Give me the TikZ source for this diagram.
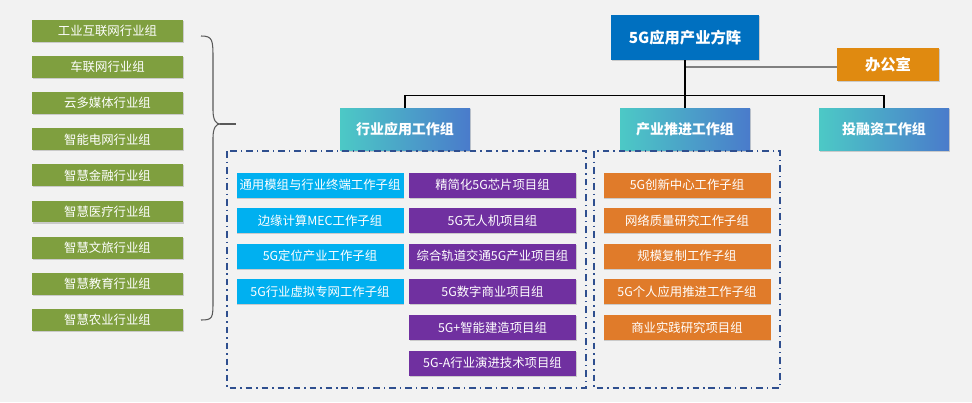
\documentclass[tikz,border=0pt]{standalone}
\usepackage{fontspec}
\setmainfont{Noto Sans CJK SC}
\usetikzlibrary{shadows,decorations.pathreplacing}
\definecolor{bg}{HTML}{F2F2F2}
\definecolor{grn}{HTML}{7F9F3F}
\definecolor{cyn}{HTML}{00B0F0}
\definecolor{ppl}{HTML}{7030A0}
\definecolor{org}{HTML}{E07B2A}
\definecolor{tl}{HTML}{4CC9C6}
\definecolor{bl}{HTML}{4A7BCB}
\definecolor{dsh}{HTML}{2F4F8F}
\definecolor{topblue}{HTML}{0070C0}
\definecolor{offorg}{HTML}{E08A10}
\begin{document}
\begin{tikzpicture}[x=0.0264cm,y=-0.0264cm,
    box/.style={minimum width=#1*0.0264cm,minimum height=0.66cm,text=white,
      font=\fontsize{9.3}{11}\selectfont,inner sep=0pt,
      drop shadow={shadow xshift=0.4pt,shadow yshift=-0.8pt,opacity=0.35}},
    ind/.style={box=151,fill=grn,minimum height=0.58cm},
    sub/.style={box=167,fill=cyn},
    prj/.style={box=167,fill=ppl},
    prm/.style={box=167,fill=org},
    grp/.style={box=130,minimum height=1.13cm,left color=tl,right color=bl,
      font=\fontsize{10.5}{12}\selectfont\bfseries},
    frame/.style={dsh,thick,dash pattern=on 5pt off 3pt on 1pt off 3pt}]
  \fill[bg] (0,0) rectangle (972,402);
  % industry groups
  \foreach \t [count=\i] in {工业互联网行业组,车联网行业组,云多媒体行业组,智能电网行业组,
      智慧金融行业组,智慧医疗行业组,智慧文旅行业组,智慧教育行业组,智慧农业行业组}
    \node[ind] (ind\i) at (107.5,{31+(\i-1)*36.1}) {\t};
  \draw[gray!70!black,thick] (201,36) .. controls (213,36) and (213,40) .. (213,60)
    -- (213,110) .. controls (213,120) and (216,124) .. (220,124)
    .. controls (216,124) and (213,128) .. (213,138) -- (213,300)
    .. controls (213,318) and (213,320) .. (201,320);
  \coordinate (tip) at (220,124);
  \coordinate (tipend) at (236,124);
  \draw[gray!70!black,thick] (tip) -- (tipend);
  % top
  \node[box=148,fill=topblue,minimum height=1.19cm,
    font=\fontsize{11.5}{13}\selectfont\bfseries] (top) at (685,37.5) {5G应用产业方阵};
  \node[box=102,fill=offorg,minimum height=0.87cm,
    font=\fontsize{11.5}{13}\selectfont\bfseries] (off) at (888,64.5) {办公室};
  \node[grp] (g1) at (405,129.5) {行业应用工作组};
  \node[grp] (g2) at (685,129.5) {产业推进工作组};
  \node[grp] (g3) at (884,129.5) {投融资工作组};
  \coordinate (j) at (top.south |- 0,67);
  \draw[gray,thick] (j) -- (off.west |- j);
  \draw[thick] (top.south) -- (g2.north);
  \draw[thick] (g1.north) -- ++(0,-12) -| (g3.north);
  % dashed frames
  \draw[frame] (227,151) rectangle (586,388);
  \draw[frame] (594,151) rectangle (780,388);
  \foreach \t [count=\i] in {通用模组与行业终端工作子组,边缘计算MEC工作子组,5G定位产业工作子组,5G行业虚拟专网工作子组}
    \node[sub] (sub\i) at (320,{185+(\i-1)*35.6}) {\t};
  \foreach \t [count=\i] in {精简化5G芯片项目组,5G无人机项目组,综合轨道交通5G产业项目组,
      5G数字商业项目组,5G+智能建造项目组,5G-A行业演进技术项目组}
    \node[prj] (prj\i) at (492.5,{185+(\i-1)*35.6}) {\t};
  \foreach \t [count=\i] in {5G创新中心工作子组,网络质量研究工作子组,规模复制工作子组,
      5G个人应用推进工作子组,商业实践研究项目组}
    \node[prm] (prm\i) at (687,{185+(\i-1)*35.6}) {\t};
\end{tikzpicture}
\end{document}
